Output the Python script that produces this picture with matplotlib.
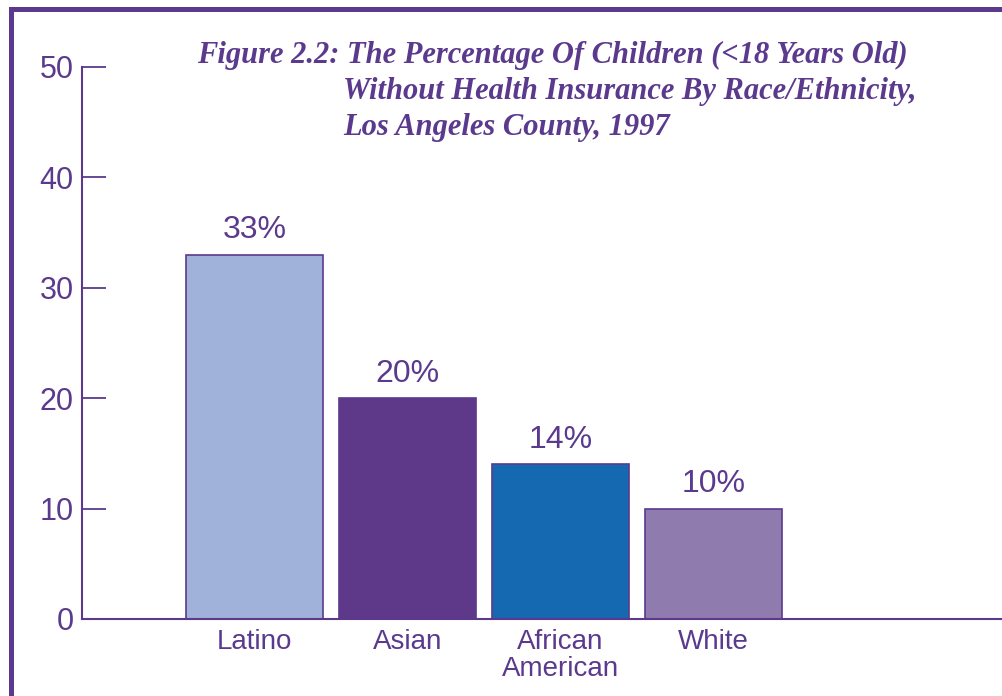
import matplotlib.pyplot as plt
from matplotlib.lines import Line2D

# chart data
categories = ['Latino', 'Asian', 'African\nAmerican', 'White']
values = [33, 20, 14, 10]
bar_colors = ['#a0b1da', '#5e398a', '#1569b1', '#907baf']
yticks = [0, 10, 20, 30, 40, 50]

purple = '#5b3a8e'
plt.rcParams['font.family'] = ['Liberation Sans Narrow', 'Liberation Sans', 'DejaVu Sans']

W, H = 1002, 696
fig = plt.figure(figsize=(W / 100, H / 100), dpi=100)

# axes placed so 0 sits at y=619px and 50 at y=67px
ax = fig.add_axes([82 / W, (H - 619) / H, 1 - 82 / W, (619 - 67) / H])

x = list(range(len(categories)))
ax.bar(x, values, width=0.895, color=bar_colors, edgecolor=purple, linewidth=1.2, zorder=2)

for xi, v in zip(x, values):
    ax.text(xi, v + 0.85, '%d%%' % v, ha='center', va='bottom',
            fontsize=23, color=purple)

ax.set_xlim(-1.127, 4.886)
ax.set_ylim(0, 50)
ax.set_yticks(yticks)
ax.set_yticklabels([str(t) for t in yticks], fontsize=22, color=purple)
ax.set_xticks(x)
ax.set_xticklabels(categories, fontsize=20, color=purple, linespacing=1.05)

ax.tick_params(axis='y', direction='in', length=17, width=1.3, color=purple, pad=6)
ax.tick_params(axis='x', length=0, pad=7)

for side in ['top', 'right']:
    ax.spines[side].set_visible(False)
for side in ['left', 'bottom']:
    ax.spines[side].set_color(purple)
    ax.spines[side].set_linewidth(1.5)

# title, italic serif in purple
title_kw = dict(fontsize=22, color=purple, style='italic', weight='bold',
                family=['Liberation Serif', 'DejaVu Serif'], va='center')
fig.text(197 / W, 1 - 55 / H, 'Figure 2.2: The Percentage Of Children (<18 Years Old)', **title_kw)
fig.text(343 / W, 1 - 91 / H, 'Without Health Insurance By Race/Ethnicity,', **title_kw)
fig.text(343 / W, 1 - 128 / H, 'Los Angeles County, 1997', **title_kw)

# page frame on left and top
fig.add_artist(Line2D([10.5 / W, 10.5 / W], [0, 1 - 8.5 / H], color=purple,
                      linewidth=3.6, solid_capstyle='projecting'))
fig.add_artist(Line2D([10.5 / W, 1], [1 - 8.5 / H, 1 - 8.5 / H], color=purple,
                      linewidth=3.6, solid_capstyle='projecting'))

fig.savefig('out.png', dpi=100)
